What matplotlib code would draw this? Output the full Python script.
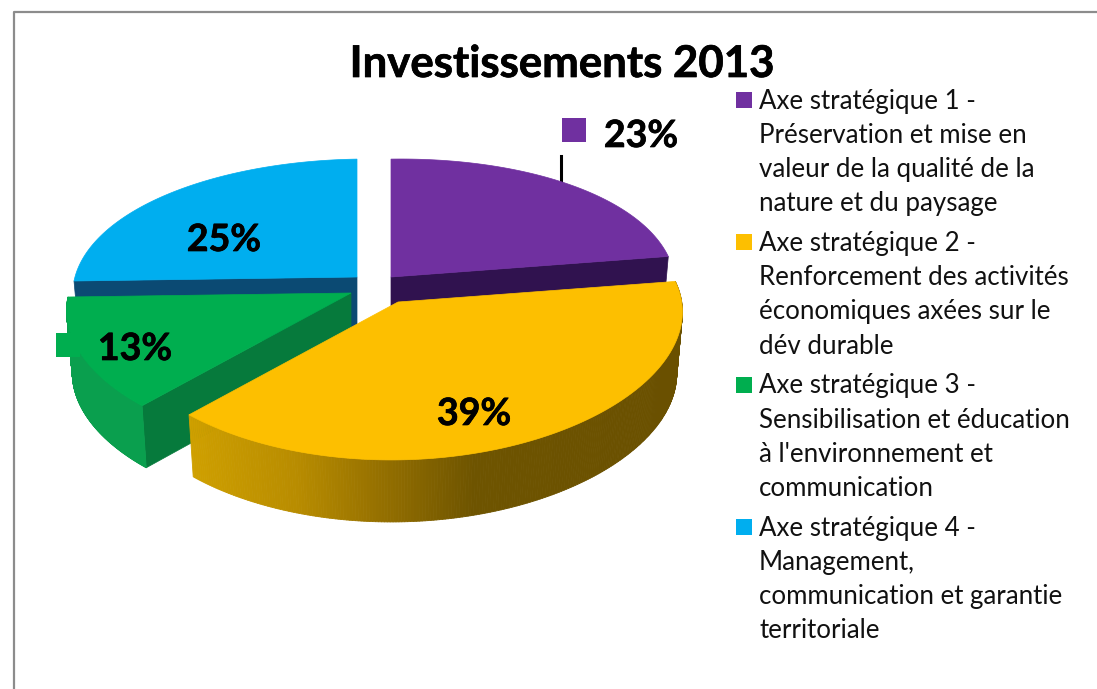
"""Investissements 2013: exploded 3D pie, drawn in pixel coordinates."""

import numpy as np
from matplotlib import pyplot as plt
from matplotlib import patheffects
from matplotlib.collections import PolyCollection
from matplotlib.colors import LinearSegmentedColormap
from matplotlib.patches import Polygon, Rectangle

plt.rcParams["font.family"] = ["Lato", "DejaVu Sans"]

W, H = 1097, 689

title = "Investissements 2013"
shares = [23, 39, 13, 25]
colors = ["#7030a0", "#fdbf00", "#00ae4f", "#00aeef"]
cut_colors = ["#30124f", "#6a5000", "#067a3c", "#0b4a73"]
legend_lines = [
    ["Axe stratégique 1 -", "Préservation et mise en", "valeur de la qualité de la", "nature et du paysage"],
    ["Axe stratégique 2 -", "Renforcement des activités", "économiques axées sur le", "dév durable"],
    ["Axe stratégique 3 -", "Sensibilisation et éducation", "à l'environnement et", "communication"],
    ["Axe stratégique 4 -", "Management,", "communication et garantie", "territoriale"],
]

# apex of every slice on the page (explosion), same order as shares
apex = [(391, 277), (398, 302), (351, 293), (357, 277)]
label_pos = [(641, 136), (474, 414), (135, 349), (224, 240)]

RX, RY = 283, 135
KX, KY = 0.10, 0.145  # fake perspective, near side gets bigger
TILT = -4
DEPTH = 62


def ring(theta, cx, cy, bottom=False):
    """Project angles (degrees) of the disc rim onto the page."""
    t = np.radians(theta)
    u, v = np.cos(t), -np.sin(t)
    x = RX * u / (1 - KX * v)
    y = RY * v / (1 - KY * v) + TILT * u
    if bottom:
        return cx + x * 0.98, cy + y + DEPTH
    return cx + x, cy + y


def slice_angles():
    edges = 90 - 3.6 * np.cumsum([0] + shares)
    return list(zip(edges[:-1], edges[1:]))


def draw_top(ax, i, a0, a1):
    cx, cy = apex[i]
    x, y = ring(np.linspace(a0, a1, 120), cx, cy)
    pts = np.column_stack([np.r_[cx, x], np.r_[cy, y]])
    ax.add_patch(Polygon(pts, closed=True, fc=colors[i], ec=colors[i], lw=0.5, zorder=i_order[i] + 0.2))


def draw_cut(ax, i, angle):
    """Flat face along the radius at the given angle."""
    cx, cy = apex[i]
    x, y = ring(np.array([angle]), cx, cy)
    xb, yb = ring(np.array([angle]), cx, cy, bottom=True)
    pts = [(cx, cy), (x[0], y[0]), (xb[0], yb[0]), (cx, cy + DEPTH)]
    ax.add_patch(Polygon(pts, closed=True, fc=cut_colors[i], ec=cut_colors[i], lw=0.5, zorder=i_order[i]))


def draw_rim(ax, i, a0, a1, color=None, cmap=None):
    cx, cy = apex[i]
    theta = np.linspace(a0, a1, 260)
    x, y = ring(theta, cx, cy)
    xb, yb = ring(theta, cx, cy, bottom=True)
    quads = [
        [(x[k], y[k]), (x[k + 1], y[k + 1]), (xb[k + 1], yb[k + 1]), (xb[k], yb[k])]
        for k in range(len(theta) - 1)
    ]
    if cmap is not None:
        mids = (x[:-1] + x[1:]) / 2
        face = cmap(np.clip((mids - 187) / (682 - 187), 0, 1))
    else:
        face = color
    coll = PolyCollection(quads, facecolors=face, edgecolors=face, linewidths=0.6, zorder=i_order[i] + 0.1)
    ax.add_collection(coll)


# painter's order: blue, purple, green, yellow
i_order = {3: 1, 0: 2, 2: 3, 1: 4}

fig = plt.figure(figsize=(W / 100, H / 100), dpi=100)
ax = fig.add_axes([0, 0, 1, 1])
ax.set_xlim(0, W)
ax.set_ylim(H, 0)
ax.axis("off")

# chart frame, runs off the right and bottom of the picture
ax.plot([14, 14, W + 5], [H + 5, 11.5, 11.5], color="#8c8c8c", lw=1.6, zorder=0)

angles = slice_angles()
rim_cmap = LinearSegmentedColormap.from_list(
    "rim",
    [(0.0, "#cfa000"), (0.22, "#b88c00"), (0.39, "#957000"), (0.58, "#6e5400"), (1.0, "#6a5000")],
)

# blue
draw_cut(ax, 3, angles[3][0])
draw_top(ax, 3, *angles[3])
# purple
draw_cut(ax, 0, angles[0][1])
draw_top(ax, 0, *angles[0])
# green
draw_rim(ax, 2, angles[2][0], angles[2][1], color="#0a9f4e")
draw_cut(ax, 2, angles[2][0])
draw_top(ax, 2, *angles[2])
# yellow
draw_rim(ax, 1, angles[1][0], angles[1][1], cmap=rim_cmap)
draw_top(ax, 1, *angles[1])

heavy = [patheffects.withStroke(linewidth=0.5, foreground="black")]

ax.text(562, 64, title, fontsize=31.5, fontweight="bold", ha="center", va="center",
        zorder=10, path_effects=heavy)

for i, share in enumerate(shares):
    lx, ly = label_pos[i]
    ax.text(lx, ly, f"{share}%", fontsize=27, fontweight="bold", ha="center", va="center",
            zorder=10, path_effects=heavy)

# label keys that stayed on the data labels
ax.add_patch(Rectangle((562, 118), 24, 24, fc=colors[0], ec="none", zorder=9))
ax.add_patch(Rectangle((56, 333), 24, 24, fc=colors[2], ec="none", zorder=9))
ax.plot([560.5, 560.5], [156, 184], color="black", lw=2.2, zorder=0.5)

# legend
for b, block in enumerate(legend_lines):
    y0 = 101 + b * 142.4
    ax.add_patch(Rectangle((736, y0 - 9), 16, 16, fc=colors[b], ec="none", zorder=9))
    for n, line in enumerate(block):
        ax.text(759, y0 + n * 34.2, line, fontsize=18.65, ha="left", va="center", color="#111111", zorder=10)

plt.savefig("out.png", dpi=100)
plt.close()
